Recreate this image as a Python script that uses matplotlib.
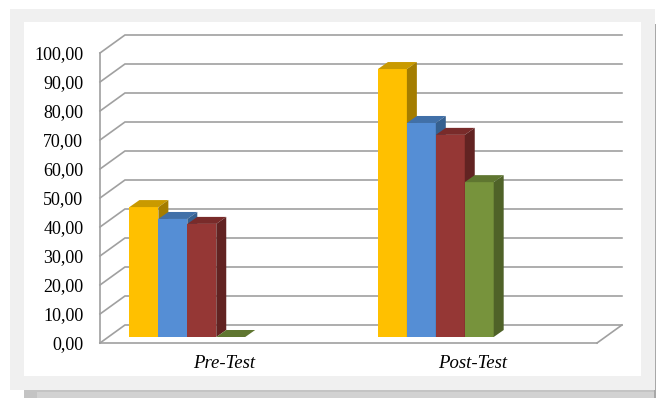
import matplotlib
matplotlib.use('Agg')
import matplotlib.pyplot as plt
from matplotlib.patches import Rectangle, Polygon
import numpy as np

plt.rcParams['font.family'] = ['Liberation Serif', 'DejaVu Serif']

# data
categories = ['Pre-Test', 'Post-Test']
series1 = [44.8, 92.4]   # yellow
series2 = [40.7, 73.8]   # blue
series3 = [39.0, 69.7]   # red
series4 = [0.0, 53.4]    # green
y_ticks = np.arange(0, 101, 10)
y_labels = [('%.2f' % v).replace('.', ',') for v in y_ticks]

# colours: front, top, side
colors = [
    ('#FFC000', '#C99A00', '#A47D00'),
    ('#558ED5', '#4170A8', '#36608F'),
    ('#953735', '#792B2A', '#622322'),
    ('#77933C', '#5F7630', '#4F6228'),
]
grid_color = '#A0A0A0'

W, H = 656, 398
fig = plt.figure(figsize=(W / 100, H / 100), dpi=100)


def box(x0, y0, x1, y1, color):
    r = Rectangle((x0 / W, 1 - y1 / H), (x1 - x0) / W, (y1 - y0) / H,
                  transform=fig.transFigure, facecolor=color, edgecolor='none', zorder=-10)
    fig.patches.append(r)


# frame around the chart
box(24, 389, 656, 398, '#C4C4C4')
box(37, 392, 656, 398, '#D2D2D2')
box(654, 24, 656, 398, '#A8A8A8')
box(10, 9, 655, 390, '#F0F0F0')
box(24, 22, 641, 376, 'white')

ax = fig.add_axes([100 / W, 1 - 343 / H, 497 / W, 290 / H])
ax.patch.set_visible(False)
ax.set_xlim(-0.5, 1.5)
ax.set_ylim(0, 100)

# back wall offset (pseudo 3d)
DX, DY = 25 / 249, 18 / 2.9
for v in y_ticks:
    ax.plot([-0.5, -0.5 + DX, 1.5 + DX], [v, v + DY, v + DY], color=grid_color,
            lw=1.2, clip_on=False, zorder=1, solid_joinstyle='miter')
ax.plot([1.5, 1.5 + DX], [0, DY], color=grid_color, lw=1.2, clip_on=False, zorder=1)

# bars
w = 29 / 249
shift = -37 / 249
base = 6 / 2.9
bdx, bdy = 10 / 249, 7 / 2.9
all_series = [series1, series2, series3, series4]
for i, vals in enumerate(all_series):
    front, top, side = colors[i]
    z = 3 + i * 0.1
    for j, v in enumerate(vals):
        x0 = j + shift + (i - 2) * w
        ax.bar(x0, v, width=w, bottom=base, align='edge', color=front,
               edgecolor='none', clip_on=False, zorder=z)
        ax.add_patch(Polygon([(x0, base + v), (x0 + w, base + v),
                              (x0 + w + bdx, base + v + bdy), (x0 + bdx, base + v + bdy)],
                             closed=True, facecolor=top, edgecolor='none', clip_on=False, zorder=z))
        ax.add_patch(Polygon([(x0 + w, base), (x0 + w + bdx, base + bdy),
                              (x0 + w + bdx, base + v + bdy), (x0 + w, base + v)],
                             closed=True, facecolor=side, edgecolor='none', clip_on=False, zorder=z))

ax.set_yticks(y_ticks)
ax.set_yticklabels(y_labels)
ax.set_xticks(range(len(categories)))
ax.set_xticklabels(categories, style='italic')
ax.tick_params(axis='y', length=0, pad=12, labelsize=13)
ax.tick_params(axis='x', length=0, pad=9, labelsize=13.5)
for s in ['top', 'right']:
    ax.spines[s].set_visible(False)
for s in ['left', 'bottom']:
    ax.spines[s].set_color(grid_color)
    ax.spines[s].set_linewidth(1.2)
    ax.spines[s].set_zorder(2)

fig.savefig('out.png', dpi=100, facecolor='white')
